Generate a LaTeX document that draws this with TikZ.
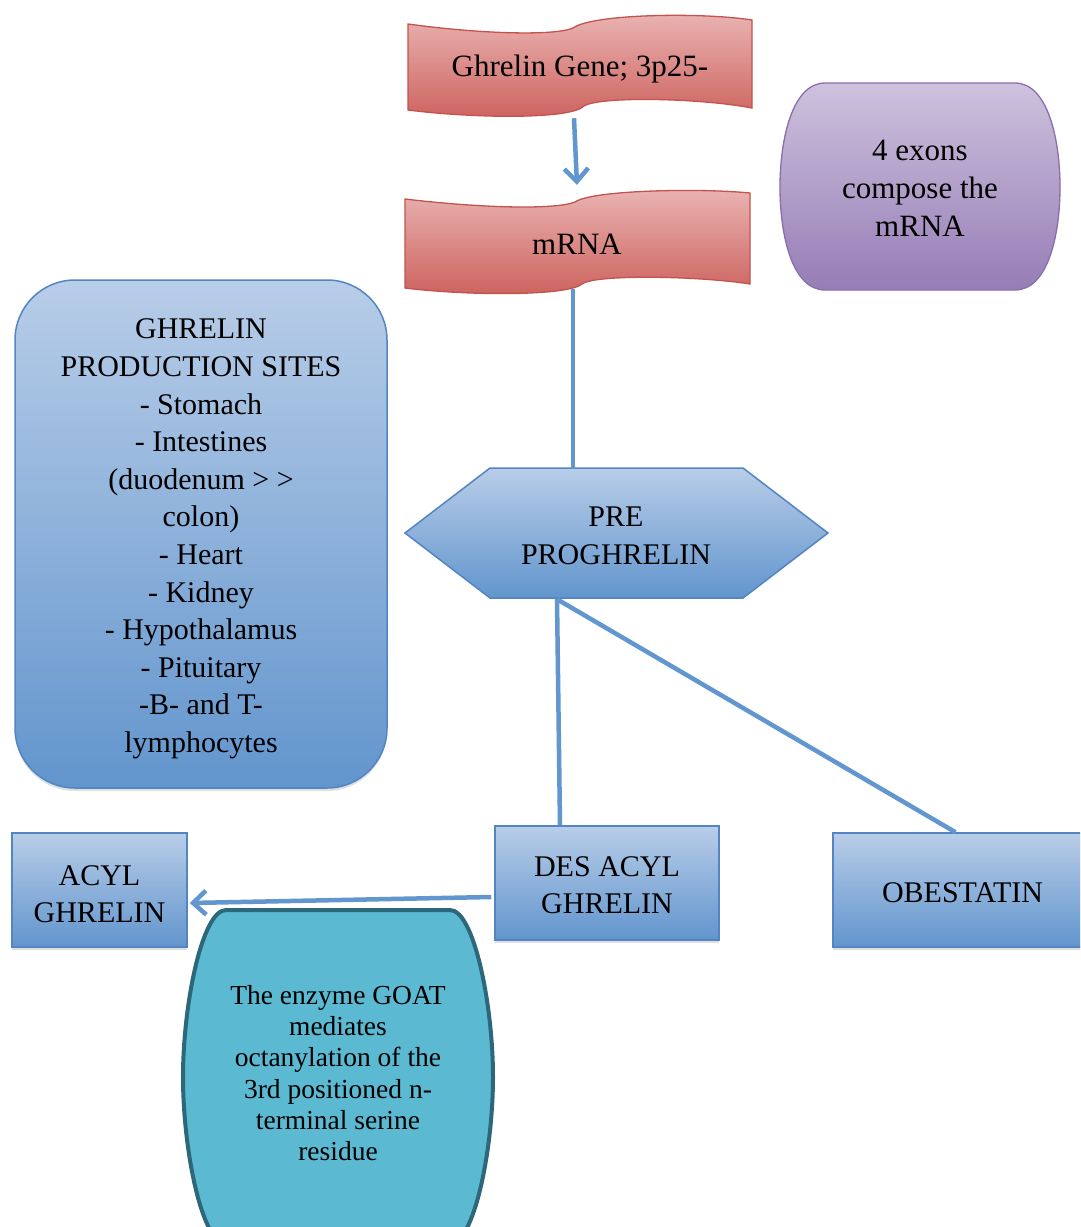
\documentclass[tikz,border=0pt]{standalone}
\usepackage{fontspec}
\setmainfont{Liberation Serif}
\usetikzlibrary{arrows.meta,shadows}
\definecolor{redtop}{RGB}{233,180,178}
\definecolor{redbot}{RGB}{205,98,94}
\definecolor{redline}{RGB}{196,82,78}
\definecolor{bluetop}{RGB}{184,205,232}
\definecolor{bluebot}{RGB}{98,149,205}
\definecolor{blueline}{RGB}{82,133,194}
\definecolor{purtop}{RGB}{206,194,221}
\definecolor{purbot}{RGB}{150,125,182}
\definecolor{purline}{RGB}{138,110,172}
\definecolor{tealfill}{RGB}{91,185,209}
\definecolor{tealline}{RGB}{45,104,122}
\definecolor{connc}{RGB}{98,150,206}
\newcommand\mainsz{\fontsize{30}{37.6}\selectfont}
\newcommand\widesz{\fontsize{31}{37.6}\selectfont}
\newcommand\smallsz{\fontsize{27.5}{31.2}\selectfont}
\newcommand\upsp[1]{\rule{0pt}{#1pt}}
\begin{document}
\begin{tikzpicture}[x=1pt,y=-1pt,
  txt/.style={align=center,font=\mainsz,inner sep=0pt,text=black},
  bluebox/.style={draw=blueline,line width=1.5pt,top color=bluetop,bottom color=bluebot,
     align=center,font=\mainsz,inner sep=0pt,
     drop shadow={shadow xshift=0pt,shadow yshift=-3pt,opacity=0.25}},
  redshape/.style={draw=redline,line width=1.3pt,top color=redtop,bottom color=redbot},
  conn/.style={draw=connc,line width=4.5pt},
  barb/.style={-{Straight Barb[length=13pt,width=24pt,line width=4.5pt]}}
]
\clip (0,0) rectangle (1080,1227);
\fill[white] (0,0) rectangle (1080,1227);

% Ghrelin gene banner
\path[redshape] (408,24) .. controls (480,34) and (555,36) .. (573,28)
  .. controls (592,14) and (700,12) .. (752,20) -- (752,108)
  .. controls (700,98) and (600,96) .. (584,106)
  .. controls (570,120) and (470,118) .. (408,110) -- cycle;
\node[txt,font=\widesz,minimum width=344pt,minimum height=104pt] (gene) at (580,66) {\upsp{27}Ghrelin Gene; 3p25-};

% mRNA banner
\path[redshape] (405,199) .. controls (480,208) and (555,210) .. (575,202)
  .. controls (592,190) and (700,188) .. (750,193) -- (750,284)
  .. controls (700,276) and (595,274) .. (582,284)
  .. controls (568,296) and (470,296) .. (405,288) -- cycle;
\node[txt,font=\widesz,minimum width=345pt,minimum height=100pt] (mrna) at (577,243) {\upsp{23}mRNA};

% purple box
\path[draw=purline,line width=1.3pt,top color=purtop,bottom color=purbot]
  (825,83) -- (1015,83) .. controls (1048,83) and (1060,140) .. (1060,187)
  .. controls (1060,235) and (1048,290) .. (1015,290) -- (825,290)
  .. controls (792,290) and (780,235) .. (780,187)
  .. controls (780,140) and (792,83) .. (825,83) -- cycle;
\node[txt,font=\widesz,minimum width=280pt,minimum height=207pt] (exons) at (920,187) {\upsp{23}4 exons\\compose the\\mRNA};

% production sites
\node[bluebox,rounded corners=60pt,minimum width=372pt,minimum height=508pt,drop shadow={opacity=0}] (sites) at (201,534)
  {\upsp{30}GHRELIN\\PRODUCTION SITES\\- Stomach\\- Intestines\\(duodenum > >\\colon)\\- Heart\\- Kidney\\- Hypothalamus\\- Pituitary\\-B- and T-\\lymphocytes};

% hexagon
\path[draw=blueline,line width=1.5pt,top color=bluetop,bottom color=bluebot]
  (405,533) -- (490,468) -- (743,468) -- (828,533) -- (743,598) -- (490,598) -- cycle;
\node[txt,minimum width=423pt,minimum height=130pt] (hex) at (616,534) {\upsp{23}PRE\\PROGHRELIN};

% boxes
\node[bluebox,minimum width=175pt,minimum height=114pt] (acyl) at (99.5,890) {\upsp{28}ACYL\\GHRELIN};
\node[bluebox,minimum width=224pt,minimum height=114pt] (desacyl) at (607,883) {\upsp{24}DES ACYL\\GHRELIN};
\node[bluebox,minimum width=259pt,minimum height=114pt] (obest) at (962.5,890) {\upsp{26}OBESTATIN};

% connectors
\draw[conn,barb] ([xshift=-6pt]gene.south) -- ([xshift=0pt,yshift=8pt]mrna.north);
\draw[conn] ([xshift=-4pt,yshift=4pt]mrna.south) -- ([xshift=-43pt]hex.north);
\draw[conn] ([xshift=-59pt]hex.south) -- ([xshift=-47pt]desacyl.north);
\draw[conn] ([xshift=-59pt]hex.south) -- ([xshift=-7pt]obest.north);
\draw[conn,barb] ([xshift=-3pt,yshift=-14pt]desacyl.west) -- ([xshift=2pt,yshift=-13pt]acyl.east);

% teal enzyme shape
\path[draw=tealline,line width=4pt,fill=tealfill]
  (226,910) -- (450,910) .. controls (474,910) and (493,1005) .. (493,1077)
  .. controls (493,1150) and (474,1244) .. (450,1244) -- (226,1244)
  .. controls (202,1244) and (183,1150) .. (183,1077)
  .. controls (183,1005) and (202,910) .. (226,910) -- cycle;
\node[txt,font=\smallsz] (goat) at (338,1073) {The enzyme GOAT\\mediates\\octanylation of the\\3rd positioned n-\\terminal serine\\residue};
\end{tikzpicture}
\end{document}
